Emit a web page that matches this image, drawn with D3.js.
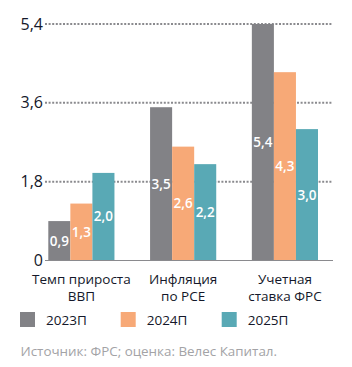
<!DOCTYPE html>
<html>
<head>
<meta charset="utf-8">
<script src="https://cdn.jsdelivr.net/npm/d3@7"></script>
<style>
  body { margin: 0; background: #fff; }
  svg text { font-family: "Open Sans", "Noto Sans", sans-serif; }
</style>
</head>
<body>
<div id="chart"></div>
<script>
// chart data
var categories = [["Темп прироста", "ВВП"], ["Инфляция", "по PCE"], ["Учетная", "ставка ФРС"]];
var seriesNames = ["2023П", "2024П", "2025П"];
var values2023 = [0.9, 3.5, 5.4];
var values2024 = [1.3, 2.6, 4.3];
var values2025 = [2.0, 2.2, 3.0];
var tickValues = [0, 1.8, 3.6, 5.4];
var colors = ["#828286", "#f7a977", "#59a9b5"];

var W = 352, H = 367;
var series = [values2023, values2024, values2025];

var svg = d3.select("#chart").append("svg")
    .attr("width", W)
    .attr("height", H);

var y = d3.scaleLinear()
    .domain([0, 5.4])
    .range([260.5, 24]);

var x0 = d3.scaleBand()
    .domain(d3.range(categories.length))
    .range([48.3, 318])
    .paddingInner(0.35)
    .paddingOuter(0);

var x1 = d3.scaleBand()
    .domain(d3.range(seriesNames.length))
    .range([0, x0.bandwidth()]);

var fmt = function(v) { return d3.format(".1f")(v).replace(".", ","); };

// gridlines
svg.selectAll(".grid")
    .data(tickValues.filter(function(d) { return d > 0; }))
    .enter().append("line")
    .attr("x1", 45).attr("x2", 333)
    .attr("y1", function(d) { return y(d); })
    .attr("y2", function(d) { return y(d); })
    .attr("stroke", "#8a8a8e")
    .attr("stroke-width", 2)
    .attr("stroke-dasharray", "2,1.6");

// y tick labels
svg.selectAll(".ytick")
    .data(tickValues)
    .enter().append("text")
    .attr("x", 43)
    .attr("y", function(d) { return y(d); })
    .attr("dy", "0.35em")
    .attr("text-anchor", "end")
    .attr("fill", "#14182a")
    .style("font-size", "16px")
    .text(function(d) { return d === 0 ? "0" : fmt(d); });

// bars
var groups = svg.selectAll(".group")
    .data(categories)
    .enter().append("g")
    .attr("transform", function(d, i) { return "translate(" + x0(i) + ",0)"; });

groups.selectAll("rect")
    .data(function(d, i) { return series.map(function(s, j) { return {s: j, v: s[i]}; }); })
    .enter().append("rect")
    .attr("x", function(d) { return x1(d.s); })
    .attr("width", x1.bandwidth())
    .attr("y", function(d) { return y(d.v); })
    .attr("height", function(d) { return y(0) - y(d.v); })
    .attr("fill", function(d) { return colors[d.s]; });

groups.selectAll(".val")
    .data(function(d, i) { return series.map(function(s, j) { return {s: j, v: s[i]}; }); })
    .enter().append("text")
    .attr("x", function(d) { return x1(d.s) + x1.bandwidth() / 2; })
    .attr("y", function(d) { return (y(d.v) + y(0)) / 2; })
    .attr("dy", "0.35em")
    .attr("text-anchor", "middle")
    .attr("fill", "#fff")
    .style("font-size", "13.5px")
    .style("font-weight", "600")
    .text(function(d) { return fmt(d.v); });

// baseline
svg.append("line")
    .attr("x1", 45).attr("x2", 333)
    .attr("y1", y(0)).attr("y2", y(0))
    .attr("stroke", "#8a8a8e")
    .attr("stroke-width", 1);

// category labels
groups.append("text")
    .attr("x", x0.bandwidth() / 2)
    .attr("y", 284)
    .attr("text-anchor", "middle")
    .attr("fill", "#14182a")
    .style("font-size", "13.5px")
    .selectAll("tspan")
    .data(function(d) { return d; })
    .enter().append("tspan")
    .attr("x", x0.bandwidth() / 2)
    .attr("dy", function(d, i) { return i ? 16.5 : 0; })
    .text(function(d) { return d; });

// legend
var legendX = [20, 120.7, 221.7];
var legend = svg.selectAll(".legend")
    .data(seriesNames)
    .enter().append("g")
    .attr("transform", function(d, i) { return "translate(" + legendX[i] + ",312)"; });

legend.append("rect")
    .attr("width", 15).attr("height", 15)
    .attr("fill", function(d, i) { return colors[i]; });

legend.append("text")
    .attr("x", 26)
    .attr("y", 8)
    .attr("dy", "0.35em")
    .attr("fill", "#14182a")
    .style("font-size", "13.5px")
    .text(function(d) { return d; });

// source
svg.append("text")
    .attr("x", 20.5)
    .attr("y", 351)
    .attr("dy", "0.35em")
    .attr("fill", "#a3a3a6")
    .style("font-size", "13.4px")
    .text("Источник: ФРС; оценка: Велес Капитал.");
</script>
</body>
</html>
